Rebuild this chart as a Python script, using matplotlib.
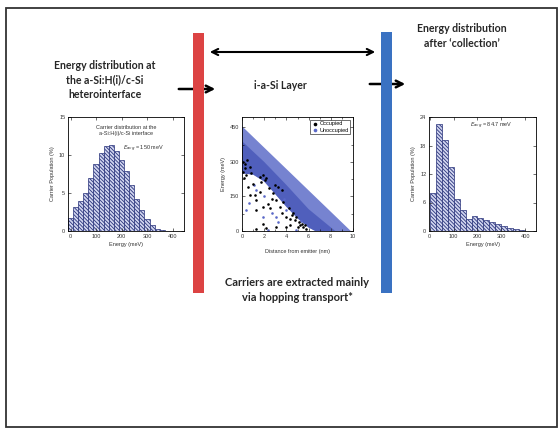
import numpy as np
import matplotlib
matplotlib.use("Agg")
import matplotlib.pyplot as plt
from matplotlib.patches import Rectangle
from matplotlib.ticker import AutoMinorLocator

# left histogram: carrier distribution at the heterointerface (20 meV bins)
left_centers = [0, 20, 40, 60, 80, 100, 120, 140, 160, 180, 200, 220, 240, 260, 280, 300, 320, 340, 360, 380]
left_pop = [1.7, 3.2, 4.0, 5.0, 7.0, 8.8, 10.2, 11.2, 11.3, 10.5, 9.3, 7.9, 6.0, 4.2, 2.7, 1.6, 0.8, 0.3, 0.15, 0.05]

# right histogram: after collection (25 meV bins)
right_centers = [12.5, 37.5, 62.5, 87.5, 112.5, 137.5, 162.5, 187.5, 212.5, 237.5, 262.5, 287.5, 312.5, 337.5, 362.5, 387.5]
right_pop = [8.0, 22.6, 19.2, 13.5, 6.8, 4.5, 2.6, 3.1, 2.8, 2.4, 1.9, 1.4, 1.0, 0.7, 0.35, 0.14]

# middle: occupied / unoccupied states vs distance
band_top_x = [0, 9.8]
band_top_e = [455, 0]
band_low_x = [0, 1, 2, 3, 4, 5, 6, 6.6, 9.8]
band_low_e = [250, 245, 215, 160, 105, 55, 15, 0, 0]
core_top_x = [0, 2, 4, 6, 8.4]
core_top_e = [390, 300, 200, 95, 0]

occ_x = [0.1, 0.45, 0.24, 0.7, 0.4, 0.1, 0.85, 1.6, 1.9, 2.05, 1.75, 2.2, 0.54, 0.7, 1.3, 1.6, 1.15,
         1.3, 1.9, 2.35, 2.5, 2.66, 2.8, 3.1, 3.4, 3.7, 3.56, 4.0, 4.3, 4.8, 4.9, 5.1, 5.2, 5.4, 5.0, 5.5,
         1.9, 2.2, 3.1, 4.0, 1.3, 4.3, 5.8, 4.6, 4.2, 3.26, 3.56, 2.96, 0.3, 0.2, 1.0, 2.4, 4.5, 5.7]
occ_e = [301, 309, 272, 280, 243, 258, 250, 236, 243, 221, 214, 229, 192, 156, 134, 170, 156,
         90, 105, 119, 98, 141, 163, 134, 105, 127, 76, 61, 54, 47, 61, 39, 25, 32, 17, 17,
         32, 15, 17, 17, 10, 25, 10, 79, 98, 192, 178, 200, 290, 230, 205, 185, 70, 28]
unocc_x = [0.4, 1.9, 3.1, 2.66, 4.0, 1.3, 3.26, 4.9, 2.35, 0.6, 1.1, 3.8, 5.3, 2.0]
unocc_e = [90, 61, 61, 76, 90, 178, 39, 3, 6, 120, 200, 140, 45, 150]

navy = "#28327a"
face = "#d2d6f0"
txt = "#262626"

plt.rcParams["hatch.linewidth"] = 0.6
plt.rcParams["font.family"] = ["Liberation Sans", "DejaVu Sans"]

fig = plt.figure(figsize=(5.6, 4.28), dpi=100)


def px_axes(x0, y0, x1, y1):
    return fig.add_axes([x0 / 560, 1 - y1 / 428, (x1 - x0) / 560, (y1 - y0) / 428])


# background layer in pixel coordinates
bg = fig.add_axes([0, 0, 1, 1])
bg.set_xlim(0, 560)
bg.set_ylim(428, 0)
bg.axis("off")
bg.add_patch(Rectangle((5.5, 8), 551, 418.5, fill=False, ec="#333333", lw=1.3))

# arrows go under the coloured bars
bg.annotate("", xy=(218, 89), xytext=(176, 89),
            arrowprops=dict(arrowstyle="->", lw=1.8, color="black", mutation_scale=12), zorder=1)
bg.annotate("", xy=(408, 84), xytext=(367, 84),
            arrowprops=dict(arrowstyle="->", lw=1.8, color="black", mutation_scale=12), zorder=1)
bg.annotate("", xy=(378, 52), xytext=(207, 52),
            arrowprops=dict(arrowstyle="<->", lw=1.5, color="black", mutation_scale=11), zorder=1)
bg.add_patch(Rectangle((193, 33), 11, 260, fc="#dc4343", ec="none", zorder=2))
bg.add_patch(Rectangle((381, 32), 11, 261, fc="#3a72c2", ec="none", zorder=2))

bold = dict(family=["Lato", "DejaVu Sans"], fontweight="bold", color=txt, fontsize=7.6,
            ha="center", va="center", linespacing=1.4)
bg.text(105, 80, "Energy distribution at\nthe a-Si:H(i)/c-Si\nheterointerface", **bold)
bg.text(462, 36, "Energy distribution\nafter \u2018collection\u2019", **bold)
bg.text(280, 85, "i-a-Si Layer", **bold)
bg.text(297, 290, "Carriers are extracted mainly\nvia hopping transport*", **dict(bold, fontsize=8))


def style(ax):
    for s in ax.spines.values():
        s.set_linewidth(0.6)
    ax.tick_params(direction="in", length=2, width=0.5, labelsize=4, pad=2,
                   top=True, right=True, colors="#333333")
    ax.tick_params(which="minor", direction="in", length=1.2, width=0.4, top=True, right=True)


# left histogram
axl = px_axes(68, 117, 184, 231)
axl.bar(left_centers, left_pop, width=20, color=face, edgecolor=navy, hatch="\\" * 9, lw=0.5)
axl.set_xlim(-10, 445)
axl.set_ylim(0, 15)
axl.set_xticks([0, 100, 200, 300, 400])
axl.set_yticks([0, 5, 10, 15])
style(axl)
axl.set_xlabel("Energy (meV)", fontsize=4, labelpad=2, color="#333333")
axl.set_ylabel("Carrier Population (%)", fontsize=4, labelpad=3, color="#333333")
axl.text(0.5, 0.88, "Carrier distribution at the\na-Si:H(i)/c-Si interface", transform=axl.transAxes,
         fontsize=4, ha="center", va="center", color="#333333", linespacing=1.2)
axl.text(0.47, 0.72, r"$E_{avg}$ = 150 meV", transform=axl.transAxes, fontsize=4,
         ha="left", va="center", color="#333333")

# middle scatter
axm = px_axes(242, 117, 353, 231)
axm.fill(band_top_x + band_low_x[::-1], band_top_e + band_low_e[::-1], color="#7683d0", lw=0, zorder=1)
axm.fill(core_top_x + band_low_x[::-1], core_top_e + band_low_e[::-1], color="#4051b4", alpha=0.7, lw=0, zorder=1)
axm.scatter(unocc_x, unocc_e, s=3.5, color="#5a68c8", lw=0, zorder=2, label="Unoccupied")
axm.scatter(occ_x, occ_e, s=3.5, color="black", lw=0, zorder=3, label="Occupied")
axm.set_xlim(0, 10)
axm.set_ylim(0, 495)
axm.set_xticks([0, 2, 4, 6, 8, 10])
axm.set_yticks([0, 150, 300, 450])
axm.xaxis.set_minor_locator(AutoMinorLocator(2))
axm.yaxis.set_minor_locator(AutoMinorLocator(2))
style(axm)
axm.set_xlabel("Distance from emitter (nm)", fontsize=4, labelpad=7, color="#333333")
axm.set_ylabel("Energy (meV)", fontsize=4, labelpad=3, color="#333333")
h, l = axm.get_legend_handles_labels()
leg = axm.legend(h[::-1], l[::-1], loc="upper right", fontsize=4, frameon=True, fancybox=False,
                 edgecolor="black", markerscale=1.4, handletextpad=0.3, borderpad=0.3,
                 labelspacing=0.2, handlelength=1, borderaxespad=0.5)
leg.get_frame().set_linewidth(0.5)

# right histogram
axr = px_axes(429, 117, 536, 231)
axr.bar(right_centers, right_pop, width=25, color=face, edgecolor=navy, hatch="\\" * 9, lw=0.5)
axr.set_xlim(-3, 445)
axr.set_ylim(0, 24)
axr.set_xticks([0, 100, 200, 300, 400])
axr.set_yticks([0, 6, 12, 18, 24])
style(axr)
axr.set_xlabel("Energy (meV)", fontsize=4, labelpad=2, color="#333333")
axr.set_ylabel("Carrier Population (%)", fontsize=4, labelpad=3, color="#333333")
axr.text(0.38, 0.92, r"$E_{avg}$ = 84.7 meV", transform=axr.transAxes, fontsize=4,
         ha="left", va="center", color="#333333")

fig.savefig("out.png", dpi=100)
